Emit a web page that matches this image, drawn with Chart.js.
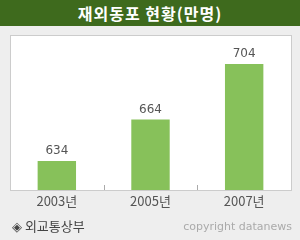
<!DOCTYPE html>
<html>
<head>
<meta charset="utf-8">
<script src="https://cdn.jsdelivr.net/npm/chart.js@4/dist/chart.umd.min.js"></script>
<style>
  body { margin: 0; background: #eeeeee; }
  #wrap { position: relative; width: 300px; height: 240px; overflow: hidden; }
  #title {
    position: absolute; left: 0; top: 0; width: 300px; height: 26px;
    background: #3e6a1d; color: #fff; text-align: center;
    font: bold 16px "Noto Sans CJK KR", sans-serif; line-height: 26px; letter-spacing: 1px;
  }
  #src {
    position: absolute; left: 12px; top: 216px;
    font: 13px "Noto Sans CJK KR", sans-serif; color: #444;
  }
  #copy {
    position: absolute; right: 8px; top: 220px;
    font: 11px "DejaVu Sans", sans-serif; color: #aaa;
  }
  canvas { position: absolute; left: 0; top: 0; }
</style>
</head>
<body>
<div id="wrap">
  <canvas id="myChart" width="300" height="240"></canvas>
  <div id="title">재외동포 현황(만명)</div>
  <div id="src">◈ 외교통상부</div>
  <div id="copy">copyright datanews</div>
</div>
<script>
const years = ['2003년', '2005년', '2007년'];
const people = [634, 664, 704];

// 흰 상자 + 테두리
const boxPlugin = {
  id: 'box',
  beforeDraw(chart) {
    const a = chart.chartArea;
    const ctx = chart.ctx;
    ctx.save();
    ctx.fillStyle = '#ffffff';
    ctx.fillRect(a.left, a.top, a.right - a.left, a.bottom - a.top);
    ctx.strokeStyle = '#cccccc';
    ctx.lineWidth = 1;
    ctx.strokeRect(a.left + 0.5, a.top + 0.5, a.right - a.left, a.bottom - a.top);
    ctx.restore();
  },
  afterDraw(chart) {
    const a = chart.chartArea;
    const x = chart.scales.x;
    const ctx = chart.ctx;
    ctx.save();
    ctx.strokeStyle = '#aaaaaa';
    ctx.lineWidth = 1;
    for (let i = 0; i < years.length - 1; i++) {
      const px = Math.round((x.getPixelForValue(i) + x.getPixelForValue(i + 1)) / 2) + 0.5;
      ctx.beginPath();
      ctx.moveTo(px, a.bottom - 5);
      ctx.lineTo(px, a.bottom);
      ctx.stroke();
    }
    ctx.restore();
  }
};

// 막대 위 숫자
const valuePlugin = {
  id: 'values',
  afterDatasetsDraw(chart) {
    const ctx = chart.ctx;
    const meta = chart.getDatasetMeta(0);
    ctx.save();
    ctx.fillStyle = '#555555';
    ctx.font = '12px "Liberation Sans Narrow", "DejaVu Sans", sans-serif';
    ctx.textAlign = 'center';
    ctx.textBaseline = 'middle';
    meta.data.forEach((bar, i) => {
      ctx.fillText(people[i], bar.x, bar.y - 10);
    });
    ctx.restore();
  }
};

new Chart(document.getElementById('myChart'), {
  type: 'bar',
  data: {
    labels: years,
    datasets: [{
      data: people,
      backgroundColor: '#87c15a',
      barPercentage: 0.41,
      categoryPercentage: 1.0
    }]
  },
  options: {
    responsive: false,
    animation: false,
    layout: { padding: { left: 10, right: 9, top: 35, bottom: 0 } },
    plugins: { legend: { display: false }, tooltip: { enabled: false } },
    scales: {
      x: {
        grid: { display: false, drawTicks: false, tickLength: 0 },
        border: { display: true, color: '#cccccc' },
        ticks: {
          color: '#555555',
          padding: 3,
          font: { family: '"Liberation Sans Narrow", "Noto Sans CJK KR", sans-serif', size: 13 }
        },
        afterFit(scale) { scale.height = 50; }
      },
      y: {
        display: false,
        min: 613,
        max: 725
      }
    }
  },
  plugins: [boxPlugin, valuePlugin]
});
</script>
</body>
</html>
